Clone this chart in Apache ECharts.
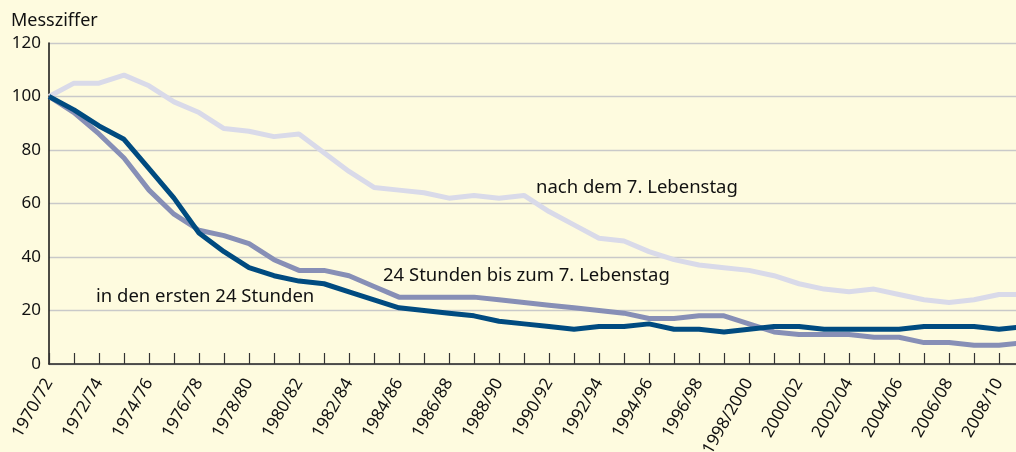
<!DOCTYPE html>
<html>
<head>
<meta charset="utf-8">
<script src="https://cdn.jsdelivr.net/npm/echarts@6/dist/echarts.min.js"></script>
<style>
html,body{margin:0;padding:0;background:#fefbdf;}
#chart{width:1016px;height:452px;}
</style>
</head>
<body>
<div id="chart"></div>
<script>
const categories = [];
for (let y = 1970; y <= 2009; y++) {
  const e = y + 2;
  categories.push(y + '/' + (e === 2000 ? '2000' : String(e % 100).padStart(2, '0')));
}
const yTicks = [0, 20, 40, 60, 80, 100, 120];

const first24h = [100,95,89,84,73,62,49,42,36,33,31,30,27,24,21,20,19,18,16,15,14,13,14,14,15,13,13,12,13,14,14,13,13,13,13,14,14,14,13,14];
const h24to7d = [100,94,86,77,65,56,50,48,45,39,35,35,33,29,25,25,25,25,24,23,22,21,20,19,17,17,18,18,15,12,11,11,11,10,10,8,8,7,7,8];
const after7d = [100,105,105,108,104,98,94,88,87,85,86,79,72,66,65,64,62,63,62,63,57,52,47,46,42,39,37,36,35,33,30,28,27,28,26,24,23,24,26,26];

const seriesNames = ['in den ersten 24 Stunden', '24 Stunden bis zum 7. Lebenstag', 'nach dem 7. Lebenstag'];
const font = '"Noto Sans", "Liberation Sans", Arial, sans-serif';

const chart = echarts.init(document.getElementById('chart'), null, {renderer: 'canvas'});
chart.setOption({
  backgroundColor: '#fefbdf',
  animation: false,
  grid: {left: 49, top: 43, right: -8, bottom: 88, containLabel: false, outerBoundsMode: 'none'},
  xAxis: {
    type: 'category',
    data: categories,
    boundaryGap: false,
    axisLine: {lineStyle: {color: '#222', width: 1.5}},
    axisTick: {show: true, inside: true, length: 11, interval: 0, lineStyle: {color: '#333', width: 1.2}},
    axisLabel: {
      interval: 1, rotate: 60, margin: 16,
      color: '#111', fontSize: 17, fontFamily: font
    },
    splitLine: {show: false}
  },
  yAxis: {
    type: 'value',
    min: yTicks[0], max: yTicks[yTicks.length - 1], interval: 20,
    axisLine: {show: true, lineStyle: {color: '#111', width: 1.5}},
    axisTick: {show: false},
    axisLabel: {color: '#111', fontSize: 17, fontFamily: font, margin: 8},
    splitLine: {lineStyle: {color: '#c9c9c9', width: 1.3}}
  },
  graphic: [
    {type: 'text', x: 11, y: 21, style: {text: 'Messziffer', font: '18px ' + font, fill: '#111', verticalAlign: 'middle'}},
    {type: 'text', x: 96, y: 296.5, style: {text: seriesNames[0], font: '18.5px ' + font, fill: '#111', verticalAlign: 'middle'}},
    {type: 'text', x: 383, y: 276, style: {text: seriesNames[1], font: '18.5px ' + font, fill: '#111', verticalAlign: 'middle'}},
    {type: 'text', x: 536, y: 187.5, style: {text: seriesNames[2], font: '18.5px ' + font, fill: '#111', verticalAlign: 'middle'}}
  ],
  series: [
    {name: seriesNames[2], type: 'line', data: after7d, symbol: 'none', lineStyle: {color: '#d9dae9', width: 5}, z: 2},
    {name: seriesNames[1], type: 'line', data: h24to7d, symbol: 'none', lineStyle: {color: '#878fb6', width: 5}, z: 3},
    {name: seriesNames[0], type: 'line', data: first24h, symbol: 'none', lineStyle: {color: '#004b80', width: 5}, z: 4}
  ]
});
</script>
</body>
</html>
